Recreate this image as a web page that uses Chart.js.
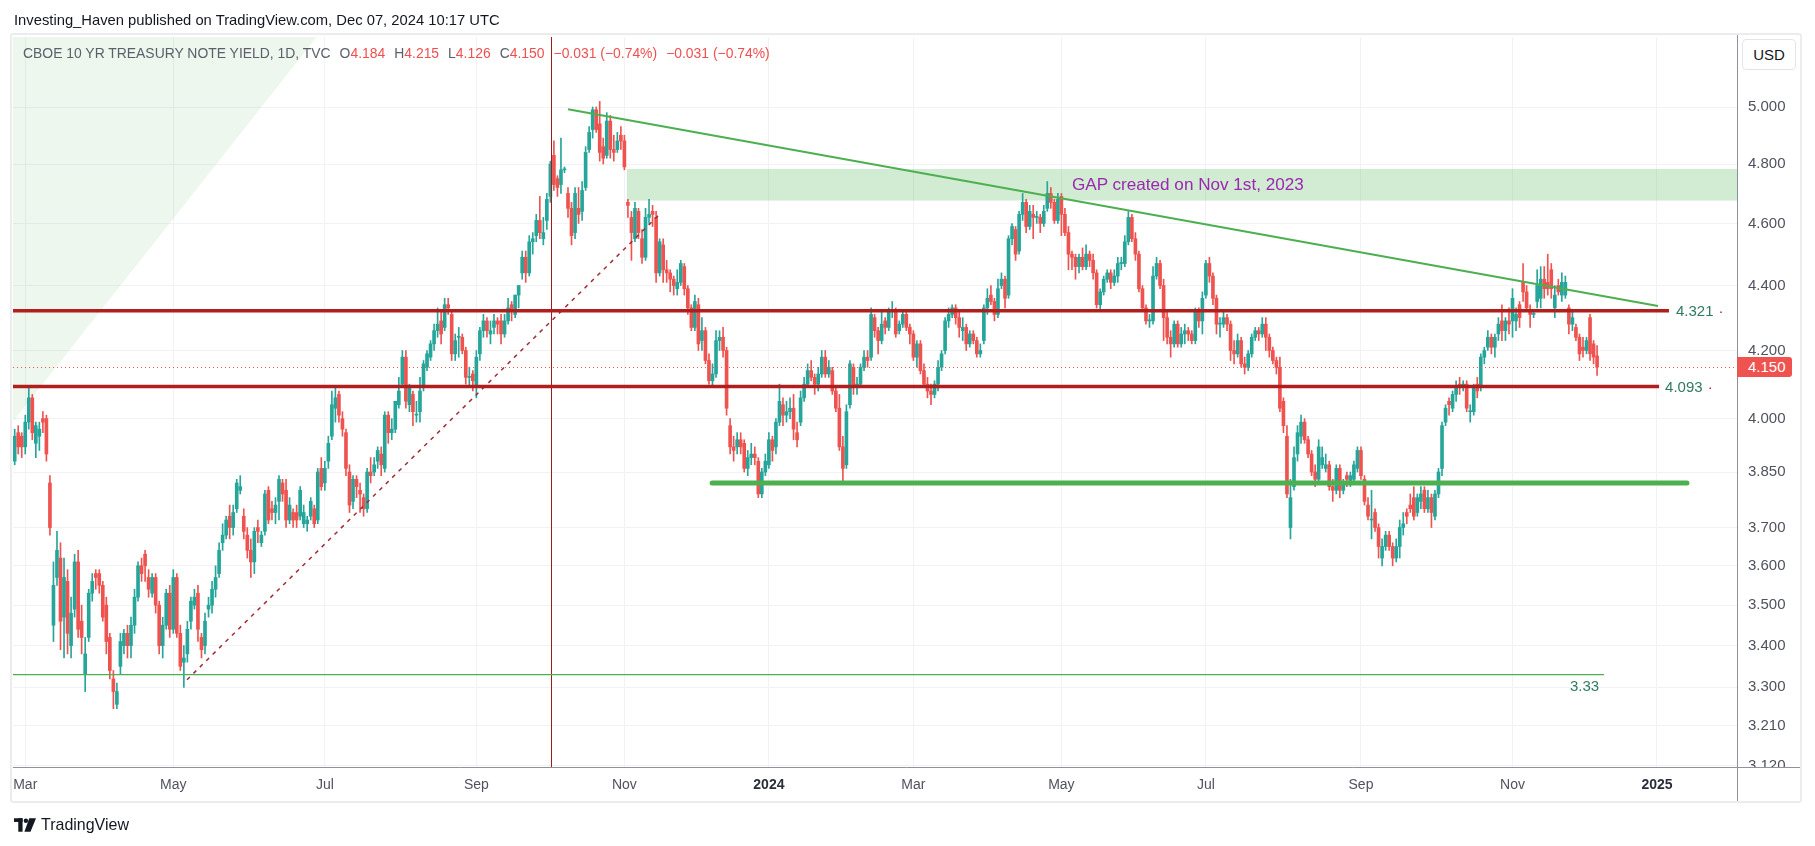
<!DOCTYPE html>
<html><head><meta charset="utf-8">
<title>CBOE 10 YR Treasury Note Yield</title>
<script src="https://cdn.jsdelivr.net/npm/chart.js@4.4.1/dist/chart.umd.min.js"></script>
<style>
html,body{margin:0;padding:0;background:#fff;}
body{width:1815px;height:846px;position:relative;overflow:hidden;font-family:"Liberation Sans",Arial,sans-serif;color:#131722;}
#frame{position:absolute;left:10px;top:33px;width:1788px;height:766px;border:2px solid #ececee;border-radius:3px;}
#c{position:absolute;left:0;top:0;}
.t{position:absolute;white-space:nowrap;line-height:1.15;transform:translateY(-50%);}
.lg .g{color:#5d606b}
.lg .r{color:#ef4f4f}
.lg .sp{margin-left:9px}
.lvl{font-size:15px;color:#2f7a5f}
.dot{color:#b22222;margin-left:5px}
#usd{position:absolute;left:1742px;top:39px;width:52px;height:29px;border:1px solid #e3e5ea;border-radius:4px;background:#fff;font-size:15px;line-height:29px;text-align:center;color:#131722;}
#pl{position:absolute;height:20px;line-height:20px;background:#ef5350;color:#fff;font-size:15px;padding-left:11px;width:44px;border-radius:0 3px 3px 0;}
#foot{position:absolute;left:14px;top:815px;height:20px;display:flex;align-items:center;}
#foot span{font-size:16px;color:#131722;margin-left:5px;}
</style></head>
<body>
<div id="frame"></div>
<canvas id="c" width="1815" height="846"></canvas>
<div id="hdr" class="t" style="left:14px;top:20px;font-size:15px;">Investing_Haven published on TradingView.com, Dec 07, 2024 10:17 UTC</div>
<div id="legend" class="t lg" style="left:23px;top:53px;font-size:14px;"><span class="g">CBOE 10 YR TREASURY NOTE YIELD, 1D, TVC</span><span class="g sp">O</span><span class="r">4.184</span><span class="g sp">H</span><span class="r">4.215</span><span class="g sp">L</span><span class="r">4.126</span><span class="g sp">C</span><span class="r">4.150</span><span class="r sp">−0.031 (−0.74%)</span><span class="r sp">−0.031 (−0.74%)</span></div>
<div id="usd">USD</div>
<div id="pl">4.150</div>
<div id="l1" class="t lvl">4.321<span class="dot">·</span></div>
<div id="l2" class="t lvl">4.093<span class="dot">·</span></div>
<div id="l3" class="t lvl">3.33</div>
<div id="gapTxt" class="t" style="font-size:17px;color:#9c27b0;">GAP created on Nov 1st, 2023</div>
<div id="foot"><svg width="22" height="14" viewBox="0 0 36 22"><rect x="0" y="0" width="14" height="6" fill="#131722"/><rect x="7" y="0" width="7" height="22" fill="#131722"/><circle cx="19.5" cy="4" r="3.6" fill="#131722"/><polygon points="25,0 36,0 27,22 17,22" fill="#131722"/></svg><span id="tvtxt">TradingView</span></div>
<script>
// ---- Data (bar index 0 = Feb 24, 2023; trading days only) ----
const opens = [
3.88,3.96,3.95,
3.92,3.99,4.06,3.93,3.95,4.00,4.00,3.82,3.45,3.57,3.62,3.47,3.56,3.40,3.49,3.61,3.46,3.33,3.42,3.53,3.58,3.58,3.55,
3.50,3.42,3.32,3.26,3.35,3.40,3.43,3.40,3.45,3.52,3.60,3.63,3.57,3.53,3.57,3.50,3.40,3.45,3.53,
3.44,3.57,3.43,3.36,3.38,3.46,3.50,3.53,3.42,3.40,3.49,3.50,3.54,3.58,3.66,3.68,3.73,3.70,3.75,3.80,3.73,3.68,
3.64,3.61,3.70,3.66,3.69,3.80,3.75,3.74,3.77,3.82,3.80,3.72,3.74,3.74,3.73,3.71,3.71,3.73,3.75,3.72,3.86,
3.82,3.88,3.95,4.03,4.07,4.00,3.96,3.85,3.77,3.83,3.80,3.78,3.75,3.85,3.85,3.88,3.90,3.86,4.01,3.96,
3.97,4.04,4.10,4.18,4.04,4.07,4.01,4.02,4.09,4.15,4.18,4.22,4.26,4.29,4.27,4.34,4.31,4.19,4.24,4.24,4.20,4.12,4.13,
4.09,4.19,4.26,4.29,4.25,4.27,4.29,4.29,4.25,4.29,4.34,4.31,4.37,4.44,4.49,4.44,4.54,4.56,4.61,4.55,
4.61,4.69,4.83,4.75,4.73,4.78,4.70,4.65,4.57,4.65,4.64,4.72,4.85,4.92,4.99,4.94,4.86,4.83,4.95,4.85,4.85,4.90,
4.88,4.67,4.62,4.55,4.64,4.55,4.49,4.62,4.64,4.62,4.44,4.53,4.45,4.44,4.42,4.39,4.41,4.46,4.39,4.33,4.27,
4.34,4.23,4.26,4.17,4.11,4.13,4.23,4.24,4.20,3.98,3.92,3.92,3.94,3.93,3.86,3.89,3.90,3.88,3.79,3.85,
3.87,3.94,3.92,3.99,4.04,4.01,4.02,4.03,3.96,3.99,4.06,4.10,4.14,4.12,4.10,4.13,4.18,4.13,4.14,4.08,4.03,
3.92,3.87,4.04,4.15,4.09,4.10,4.15,4.18,4.18,4.30,4.26,4.23,4.29,4.27,4.32,4.32,4.26,4.28,4.31,4.27,
4.25,4.18,4.22,4.14,4.10,4.08,4.07,4.10,4.15,4.20,4.29,4.31,4.33,4.30,4.26,4.27,4.22,4.25,4.23,4.19,
4.23,4.33,4.37,4.35,4.31,4.40,4.42,4.37,4.55,4.58,4.51,4.63,4.67,4.59,4.63,4.62,4.62,4.60,4.65,4.70,4.67,4.61,
4.69,4.63,4.57,4.50,4.49,4.46,4.49,4.46,4.50,4.48,4.44,4.34,4.38,4.42,4.44,4.41,4.43,4.47,4.47,4.54,4.62,4.55,
4.50,4.39,4.33,4.29,4.29,4.43,4.47,4.40,4.30,4.24,4.22,4.28,4.22,4.25,4.26,4.25,4.23,4.32,4.29,
4.37,4.47,4.43,4.36,4.28,4.28,4.30,4.28,4.20,4.19,4.23,4.16,4.15,4.19,4.24,4.26,4.25,4.28,4.24,4.20,4.17,4.15,
4.05,3.95,3.70,3.81,3.90,3.95,3.99,3.94,3.90,3.85,3.83,3.87,3.86,3.87,3.81,3.80,3.86,3.80,3.84,3.82,3.83,3.86,
3.91,3.83,3.76,3.72,3.74,3.70,3.62,3.65,3.68,3.65,3.62,3.65,3.70,3.74,3.76,3.78,3.74,3.77,3.80,3.75,
3.78,3.73,3.79,3.86,3.99,4.05,4.03,4.07,4.10,4.09,4.10,4.02,4.02,4.10,4.09,4.18,4.21,4.24,4.21,4.25,4.29,4.26,4.29,
4.29,4.29,4.34,4.41,4.38,4.32,4.31,4.35,4.36,4.42,4.41,4.45,4.33,4.40,4.37,4.37,4.33,4.28,4.27,4.24,
4.21,4.20,4.30,4.22,4.184
];
const highs = [
3.97,3.98,3.96,
4.01,4.09,4.07,3.99,3.99,4.02,4.01,3.84,3.61,3.69,3.66,3.62,3.59,3.52,3.63,3.64,3.50,3.42,3.54,3.58,3.59,3.59,3.56,
3.52,3.43,3.34,3.31,3.43,3.44,3.45,3.47,3.54,3.61,3.62,3.64,3.59,3.58,3.58,3.51,3.47,3.54,3.55,
3.59,3.58,3.45,3.40,3.46,3.52,3.54,3.55,3.43,3.48,3.52,3.56,3.60,3.66,3.71,3.73,3.76,3.76,3.83,3.84,3.75,3.70,
3.67,3.70,3.72,3.69,3.80,3.81,3.77,3.78,3.84,3.83,3.83,3.78,3.75,3.76,3.81,3.76,3.73,3.78,3.76,3.86,3.89,
3.88,3.95,4.08,4.09,4.08,4.02,3.97,3.87,3.84,3.84,3.82,3.79,3.86,3.89,3.89,3.92,3.92,4.02,4.02,4.00,
4.05,4.12,4.20,4.20,4.10,4.08,4.05,4.12,4.17,4.20,4.23,4.28,4.33,4.32,4.36,4.36,4.32,4.25,4.27,4.25,4.21,4.15,4.14,
4.20,4.27,4.31,4.30,4.29,4.31,4.30,4.31,4.31,4.36,4.35,4.37,4.40,4.51,4.51,4.56,4.57,4.63,4.69,4.62,
4.70,4.81,4.88,4.76,4.89,4.79,4.72,4.67,4.72,4.72,4.74,4.86,4.93,5.00,5.00,5.02,4.89,4.98,4.97,4.90,4.91,4.93,
4.90,4.68,4.64,4.67,4.65,4.58,4.65,4.68,4.66,4.64,4.55,4.55,4.48,4.45,4.43,4.45,4.48,4.47,4.40,4.34,4.37,
4.36,4.30,4.27,4.19,4.16,4.26,4.26,4.27,4.21,4.00,3.95,3.96,3.96,3.94,3.91,3.93,3.92,3.89,3.86,3.90,
3.96,3.95,4.00,4.10,4.06,4.05,4.06,4.07,3.99,4.08,4.12,4.16,4.17,4.13,4.15,4.20,4.20,4.17,4.15,4.09,4.07,
3.95,4.04,4.17,4.16,4.12,4.16,4.20,4.20,4.33,4.31,4.27,4.32,4.30,4.33,4.35,4.33,4.29,4.32,4.32,4.28,
4.26,4.23,4.23,4.16,4.12,4.10,4.11,4.17,4.20,4.30,4.33,4.34,4.34,4.32,4.30,4.28,4.26,4.26,4.24,4.22,
4.34,4.39,4.40,4.36,4.42,4.44,4.43,4.56,4.60,4.59,4.64,4.70,4.68,4.66,4.66,4.64,4.63,4.66,4.74,4.72,4.68,4.70,
4.70,4.65,4.59,4.51,4.50,4.50,4.52,4.53,4.51,4.50,4.45,4.39,4.43,4.45,4.45,4.45,4.49,4.49,4.56,4.64,4.63,4.57,
4.51,4.40,4.34,4.31,4.46,4.49,4.48,4.42,4.32,4.26,4.29,4.29,4.27,4.28,4.27,4.26,4.33,4.33,4.38,
4.48,4.49,4.44,4.37,4.30,4.32,4.31,4.29,4.23,4.25,4.24,4.18,4.20,4.25,4.27,4.27,4.30,4.30,4.25,4.21,4.18,4.18,
4.06,3.98,3.83,3.92,3.98,4.01,4.00,3.95,3.91,3.87,3.94,3.92,3.90,3.88,3.83,3.87,3.87,3.83,3.85,3.85,3.88,3.92,
3.92,3.84,3.78,3.80,3.75,3.71,3.67,3.69,3.69,3.66,3.67,3.72,3.74,3.75,3.79,3.81,3.79,3.81,3.81,3.80,
3.79,3.80,3.86,3.99,4.04,4.06,4.08,4.11,4.12,4.11,4.11,4.04,4.10,4.12,4.19,4.21,4.26,4.25,4.25,4.30,4.34,4.30,4.33,
4.39,4.33,4.35,4.47,4.40,4.34,4.32,4.45,4.46,4.46,4.50,4.47,4.40,4.42,4.44,4.43,4.34,4.32,4.28,4.25,
4.24,4.24,4.31,4.23,4.215
];
const lows = [
3.87,3.90,3.89,
3.90,3.97,3.94,3.89,3.91,3.96,3.88,3.68,3.41,3.55,3.39,3.37,3.38,3.37,3.47,3.42,3.38,3.29,3.41,3.51,3.54,3.53,3.46,
3.38,3.32,3.25,3.25,3.33,3.38,3.37,3.37,3.43,3.51,3.56,3.56,3.52,3.52,3.48,3.38,3.37,3.44,3.42,
3.43,3.42,3.34,3.30,3.36,3.44,3.49,3.41,3.37,3.38,3.47,3.48,3.52,3.57,3.64,3.67,3.67,3.68,3.74,3.79,3.67,3.62,
3.57,3.58,3.66,3.65,3.68,3.71,3.72,3.71,3.72,3.77,3.70,3.71,3.70,3.70,3.72,3.70,3.69,3.72,3.70,3.71,3.80,
3.80,3.86,3.94,3.99,3.99,3.95,3.84,3.74,3.75,3.78,3.74,3.73,3.74,3.82,3.84,3.86,3.84,3.85,3.93,3.94,
3.96,4.03,4.09,4.03,4.02,3.98,3.99,3.99,4.08,4.14,4.17,4.20,4.24,4.22,4.26,4.31,4.17,4.17,4.18,4.19,4.10,4.09,4.08,
4.06,4.17,4.24,4.24,4.22,4.25,4.25,4.22,4.24,4.28,4.29,4.30,4.33,4.42,4.41,4.43,4.50,4.54,4.55,4.53,
4.58,4.67,4.71,4.69,4.70,4.77,4.62,4.53,4.55,4.60,4.61,4.71,4.84,4.89,4.91,4.81,4.80,4.82,4.82,4.81,4.84,4.85,
4.78,4.62,4.48,4.54,4.55,4.47,4.48,4.60,4.59,4.41,4.43,4.41,4.41,4.38,4.37,4.37,4.40,4.37,4.31,4.26,4.26,
4.20,4.20,4.16,4.10,4.09,4.12,4.20,4.18,4.01,3.90,3.88,3.90,3.90,3.85,3.84,3.87,3.87,3.78,3.78,3.84,
3.86,3.88,3.90,3.98,3.98,3.99,4.00,3.94,3.92,3.98,4.05,4.09,4.11,4.07,4.08,4.12,4.12,4.12,4.07,4.02,3.91,
3.82,3.86,4.03,4.07,4.07,4.09,4.14,4.15,4.17,4.24,4.19,4.22,4.25,4.26,4.30,4.24,4.25,4.27,4.26,4.22,
4.17,4.15,4.13,4.09,4.06,4.04,4.06,4.08,4.14,4.19,4.27,4.30,4.28,4.24,4.23,4.20,4.21,4.22,4.18,4.18,
4.22,4.31,4.34,4.29,4.30,4.39,4.33,4.36,4.53,4.48,4.50,4.61,4.57,4.58,4.55,4.60,4.57,4.59,4.64,4.65,4.60,4.60,
4.56,4.56,4.45,4.45,4.42,4.44,4.45,4.45,4.46,4.42,4.33,4.32,4.37,4.41,4.39,4.40,4.41,4.45,4.46,4.53,4.54,4.48,
4.38,4.32,4.28,4.27,4.28,4.42,4.39,4.23,4.22,4.18,4.21,4.21,4.21,4.22,4.23,4.22,4.22,4.27,4.25,
4.36,4.41,4.34,4.25,4.24,4.27,4.26,4.17,4.16,4.18,4.15,4.13,4.14,4.18,4.23,4.23,4.24,4.20,4.18,4.16,4.13,4.02,
3.96,3.78,3.67,3.80,3.88,3.93,3.93,3.89,3.84,3.81,3.82,3.86,3.85,3.80,3.77,3.79,3.78,3.79,3.81,3.81,3.82,3.85,
3.83,3.76,3.72,3.67,3.69,3.62,3.60,3.64,3.64,3.60,3.61,3.62,3.68,3.71,3.74,3.72,3.73,3.75,3.74,3.74,
3.70,3.72,3.78,3.84,3.98,4.01,4.02,4.05,4.07,4.08,4.02,3.99,4.01,4.06,4.08,4.16,4.20,4.19,4.18,4.23,4.23,4.23,4.25,
4.24,4.26,4.27,4.35,4.32,4.27,4.30,4.33,4.33,4.36,4.37,4.36,4.30,4.37,4.35,4.36,4.25,4.26,4.23,4.17,
4.18,4.19,4.17,4.16,4.126
];
const closes = [
3.95,3.92,3.92,
3.99,4.06,3.96,3.98,3.97,3.99,3.90,3.70,3.55,3.64,3.46,3.57,3.43,3.48,3.61,3.44,3.42,3.38,3.53,3.56,3.57,3.55,3.47,
3.41,3.34,3.29,3.29,3.41,3.43,3.40,3.45,3.52,3.60,3.58,3.60,3.54,3.57,3.50,3.40,3.45,3.53,3.44,
3.57,3.43,3.35,3.37,3.44,3.51,3.52,3.44,3.39,3.46,3.50,3.54,3.57,3.64,3.68,3.72,3.70,3.74,3.82,3.81,3.69,3.64,
3.61,3.69,3.69,3.68,3.79,3.72,3.74,3.76,3.83,3.79,3.72,3.76,3.72,3.72,3.80,3.74,3.72,3.77,3.71,3.85,3.81,
3.86,3.93,4.04,4.06,4.01,3.97,3.86,3.76,3.83,3.81,3.79,3.75,3.85,3.84,3.87,3.91,3.87,4.01,3.96,3.97,
4.05,4.08,4.18,4.05,4.09,4.02,4.01,4.08,4.16,4.19,4.22,4.26,4.28,4.25,4.34,4.33,4.19,4.23,4.24,4.20,4.12,4.12,4.11,
4.18,4.26,4.29,4.26,4.26,4.29,4.28,4.25,4.29,4.33,4.32,4.37,4.40,4.49,4.44,4.54,4.55,4.61,4.57,4.57,
4.68,4.80,4.73,4.72,4.78,4.78,4.65,4.56,4.70,4.63,4.71,4.84,4.91,4.99,4.92,4.84,4.82,4.95,4.85,4.84,4.88,4.88,
4.79,4.66,4.57,4.65,4.57,4.49,4.62,4.63,4.63,4.44,4.54,4.45,4.44,4.42,4.40,4.41,4.47,4.39,4.33,4.27,4.35,
4.22,4.26,4.17,4.11,4.13,4.23,4.24,4.20,4.03,3.92,3.91,3.94,3.92,3.86,3.89,3.90,3.89,3.79,3.85,3.88,
3.94,3.91,3.99,4.05,4.01,4.02,4.03,3.97,3.94,4.06,4.10,4.14,4.12,4.10,4.13,4.18,4.13,4.15,4.08,4.03,3.92,
3.86,4.02,4.16,4.09,4.10,4.15,4.18,4.17,4.31,4.26,4.23,4.28,4.27,4.32,4.32,4.25,4.28,4.31,4.27,4.25,
4.18,4.22,4.14,4.10,4.08,4.07,4.10,4.15,4.19,4.29,4.31,4.33,4.30,4.27,4.27,4.22,4.25,4.23,4.19,4.20,
4.33,4.36,4.35,4.31,4.39,4.42,4.36,4.55,4.59,4.50,4.63,4.67,4.59,4.64,4.62,4.62,4.60,4.64,4.70,4.67,4.61,4.68,
4.63,4.57,4.50,4.49,4.46,4.49,4.46,4.50,4.48,4.44,4.34,4.38,4.42,4.44,4.41,4.43,4.47,4.47,4.54,4.62,4.55,4.50,
4.39,4.33,4.29,4.29,4.43,4.47,4.40,4.30,4.24,4.22,4.28,4.22,4.25,4.26,4.25,4.23,4.32,4.29,4.36,
4.47,4.43,4.36,4.28,4.28,4.30,4.28,4.20,4.19,4.23,4.16,4.15,4.19,4.24,4.26,4.25,4.28,4.24,4.20,4.17,4.15,4.03,
3.98,3.79,3.78,3.89,3.96,3.99,3.94,3.90,3.85,3.83,3.92,3.89,3.87,3.81,3.80,3.86,3.80,3.82,3.83,3.84,3.87,3.91,
3.84,3.77,3.73,3.72,3.70,3.65,3.65,3.68,3.65,3.62,3.65,3.70,3.71,3.73,3.75,3.73,3.78,3.79,3.75,3.78,
3.74,3.79,3.85,3.98,4.03,4.04,4.07,4.09,4.09,4.10,4.03,4.02,4.09,4.08,4.18,4.20,4.24,4.21,4.24,4.28,4.26,4.29,4.28,
4.36,4.31,4.30,4.38,4.33,4.31,4.31,4.40,4.42,4.39,4.39,4.39,4.37,4.38,4.41,4.41,4.28,4.30,4.24,4.19,
4.20,4.23,4.19,4.18,4.150
];
// Time axis: first trading bar of each labelled month
const monthTickIdx = [3, 45, 88, 131, 173, 214, 255, 297, 338, 382, 425, 466];
const monthTickLabels = ['Mar','May','Jul','Sep','Nov','2024','Mar','May','Jul','Sep','Nov','2025'];
const yearTicks = ['2024','2025'];
// Price axis ticks
const priceTicks = [3.12, 3.21, 3.30, 3.40, 3.50, 3.60, 3.70, 3.85, 4.00, 4.20, 4.40, 4.60, 4.80, 5.00];
// Drawings (bar index, yield)
const redLevels = [ {v:4.321, end:469.4, id:'l1'}, {v:4.093, end:466.6, id:'l2'} ];
const supportLine = {v:3.82, start:197.9, end:474.5};
const lowLine = {v:3.33, end:451.0};
const trendLine = {x1:157.0, y1:4.992, x2:466.3, y2:4.336};
const dashLine = {x1:48.9, y1:3.318, x2:183.4, y2:4.635};
const gapZone = {start:173.7, top:4.783, bottom:4.676, textAt:300};
const markerIdx = 152.2;
const lastPrice = 4.150;
const wedge = {x1:-0.45, y1:3.992, x2:85.7, y2:5.257};

// ---- Chart ----
const FONT = '"Liberation Sans", Arial, sans-serif';
Chart.defaults.font.family = FONT;
const UP = '#26a69a', DOWN = '#ef5350';
const colors = closes.map((c,i) => c >= opens[i] ? UP : DOWN);
const wickData = closes.map((c,i) => ({x:i, y:[lows[i], highs[i]]}));
const bodyData = closes.map((c,i) => ({x:i, y:[opens[i], c]}));

const overlay = {
  id:'overlay',
  beforeDatasetsDraw(chart){
    const {ctx, chartArea:a, scales:{x, y}} = chart;
    ctx.save();
    ctx.beginPath(); ctx.rect(a.left, a.top, a.right-a.left, a.bottom-a.top); ctx.clip();
    const p1x = x.getPixelForValue(wedge.x1), p1y = y.getPixelForValue(wedge.y1);
    const p2x = x.getPixelForValue(wedge.x2), p2y = y.getPixelForValue(wedge.y2);
    ctx.fillStyle = 'rgba(76,175,80,0.10)';
    ctx.beginPath();
    ctx.moveTo(p1x, p1y);
    ctx.lineTo(p1x + (p2x-p1x)*2, p1y + (p2y-p1y)*2);
    ctx.lineTo(a.left-20, p1y + (p2y-p1y)*2);
    ctx.lineTo(a.left-20, p1y);
    ctx.closePath(); ctx.fill();
    const gy1 = y.getPixelForValue(gapZone.top), gy2 = y.getPixelForValue(gapZone.bottom);
    const gx = x.getPixelForValue(gapZone.start);
    ctx.fillStyle = 'rgba(76,175,80,0.25)';
    ctx.fillRect(gx, gy1, a.right-gx, gy2-gy1);
    ctx.restore();
  },
  afterDatasetsDraw(chart){
    const {ctx, chartArea:a, scales:{x, y}} = chart;
    ctx.save();
    ctx.beginPath(); ctx.rect(a.left, a.top, a.right-a.left, a.bottom-a.top); ctx.clip();
    const seg = (x1,y1,x2,y2) => { ctx.beginPath(); ctx.moveTo(x1,y1); ctx.lineTo(x2,y2); ctx.stroke(); };
    ctx.strokeStyle = '#a02d36'; ctx.lineWidth = 1.5; ctx.setLineDash([4,5]);
    seg(x.getPixelForValue(dashLine.x1), y.getPixelForValue(dashLine.y1), x.getPixelForValue(dashLine.x2), y.getPixelForValue(dashLine.y2));
    ctx.setLineDash([]);
    ctx.strokeStyle = '#9e1b1b'; ctx.lineWidth = 1;
    const mx = Math.round(x.getPixelForValue(markerIdx)) + 0.5;
    seg(mx, a.top, mx, a.bottom);
    ctx.strokeStyle = '#ef5350'; ctx.lineWidth = 1; ctx.setLineDash([1,3]);
    const lp = Math.round(y.getPixelForValue(lastPrice)) + 0.5;
    seg(a.left, lp, a.right, lp);
    ctx.setLineDash([]);
    ctx.strokeStyle = '#4caf50'; ctx.lineWidth = 1.3;
    const ly = y.getPixelForValue(lowLine.v);
    seg(a.left, ly, x.getPixelForValue(lowLine.end), ly);
    ctx.lineWidth = 2;
    seg(x.getPixelForValue(trendLine.x1), y.getPixelForValue(trendLine.y1), x.getPixelForValue(trendLine.x2), y.getPixelForValue(trendLine.y2));
    ctx.lineWidth = 5; ctx.lineCap = 'round';
    const sy = y.getPixelForValue(supportLine.v);
    seg(x.getPixelForValue(supportLine.start), sy, x.getPixelForValue(supportLine.end), sy);
    ctx.lineCap = 'butt';
    ctx.strokeStyle = '#b01e1e'; ctx.lineWidth = 3.5;
    redLevels.forEach(l => { const py = y.getPixelForValue(l.v); seg(a.left, py, x.getPixelForValue(l.end), py); });
    ctx.restore();
  },
  afterDraw(chart){
    const {ctx, chartArea:a} = chart;
    ctx.save();
    ctx.fillStyle = '#fff';
    ctx.fillRect(a.right+1, a.bottom+1, 62, 33);
    ctx.strokeStyle = '#8f929b'; ctx.lineWidth = 1;
    ctx.beginPath(); ctx.moveTo(a.right+0.5, 35); ctx.lineTo(a.right+0.5, 801); ctx.stroke();
    ctx.beginPath(); ctx.moveTo(a.left, a.bottom+0.5); ctx.lineTo(1800, a.bottom+0.5); ctx.stroke();
    ctx.restore();
  }
};

const chart = new Chart(document.getElementById('c'), {
  type:'bar',
  data:{datasets:[
    {data:wickData, backgroundColor:colors, barThickness:1, grouped:false, order:2, borderWidth:0},
    {data:bodyData, backgroundColor:colors, barThickness:3, grouped:false, order:1, borderWidth:0, minBarLength:1}
  ]},
  options:{
    responsive:false, animation:false, devicePixelRatio:1,
    layout:{padding:{left:13, right:15, top:37, bottom:45}},
    plugins:{legend:{display:false}, tooltip:{enabled:false}},
    scales:{
      x:{type:'linear', min:-0.48, max:488.7, offset:false,
         grid:{color:'#f0f2f6', drawTicks:false, offset:false},
         border:{display:false},
         afterBuildTicks:s => { s.ticks = monthTickIdx.map(v => ({value:v})); },
         afterFit:s => { s.height = 34; },
         ticks:{autoSkip:false, maxRotation:0, padding:10,
           callback:(v,i) => monthTickLabels[i],
           color:c => (c.tick && yearTicks.includes(monthTickLabels[monthTickIdx.indexOf(c.tick.value)])) ? '#2a2e39' : '#50535e',
           font:c => ({family:FONT, size:14, weight:(c.tick && yearTicks.includes(monthTickLabels[monthTickIdx.indexOf(c.tick.value)])) ? 'bold' : 'normal'})}
      },
      y:{type:'logarithmic', position:'right', min:3.117, max:5.257,
         grid:{color:'#f0f2f6', drawTicks:false},
         border:{display:false},
         afterBuildTicks:s => { s.ticks = priceTicks.map(v => ({value:v})); },
         afterFit:s => { s.width = 63; },
         ticks:{padding:11, color:'#50535e', font:{family:FONT, size:15}, callback:v => Number(v).toFixed(3)}
      }
    }
  },
  plugins:[overlay]
});

// ---- Text overlays positioned from the chart's scales ----
(function(){
  const xs = chart.scales.x, ys = chart.scales.y, a = chart.chartArea;
  function fit(id, w){ const el = document.getElementById(id); const fs = parseFloat(el.style.fontSize || getComputedStyle(el).fontSize); const cw = el.getBoundingClientRect().width; el.style.fontSize = (fs*w/cw) + 'px'; }
  fit('hdr', 486);
  fit('legend', 747);
  fit('gapTxt', 232);
  fit('tvtxt', 88);
  function put(id, left, cy){ const el = document.getElementById(id); el.style.left = left + 'px'; el.style.top = cy + 'px'; }
  redLevels.forEach((l,k) => put(l.id, xs.getPixelForValue(l.end) + (k===0?7:6), ys.getPixelForValue(l.v)));
  const l3 = document.getElementById('l3');
  put('l3', xs.getPixelForValue(lowLine.end) - 5 - l3.getBoundingClientRect().width, ys.getPixelForValue(lowLine.v) + 11);
  put('gapTxt', xs.getPixelForValue(gapZone.textAt), (ys.getPixelForValue(gapZone.top) + ys.getPixelForValue(gapZone.bottom))/2);
  const pl = document.getElementById('pl');
  pl.style.left = a.right + 'px';
  pl.style.top = (ys.getPixelForValue(lastPrice) - 10) + 'px';
})();
</script>
</body></html>
